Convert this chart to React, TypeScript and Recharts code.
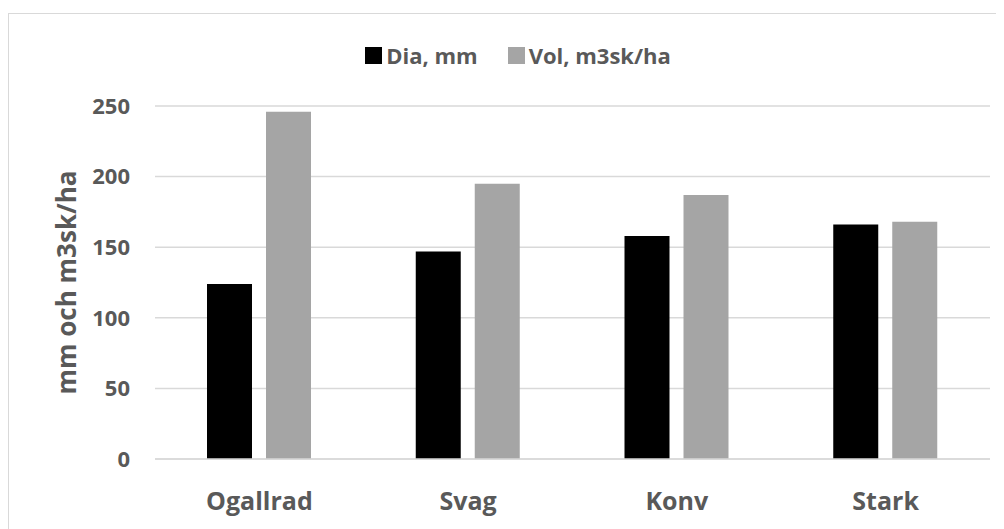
import { Bar, BarChart, CartesianGrid, Legend, XAxis, YAxis } from "recharts";

const categories = ["Ogallrad", "Svag", "Konv", "Stark"];
const diaValues = [124, 147, 158, 166];
const volValues = [246, 195, 187, 168];
const yTicks = [0, 50, 100, 150, 200, 250];

const seriesNames = { dia: "Dia, mm", vol: "Vol, m3sk/ha" };
const colors = { dia: "#000000", vol: "#a5a5a5" };

const data = categories.map((c, i) => ({ name: c, dia: diaValues[i], vol: volValues[i] }));

const FONT = "'Open Sans', sans-serif";
const TEXT = "#595959";

function LegendContent() {
  const items = [
    { key: "dia", label: seriesNames.dia, color: colors.dia },
    { key: "vol", label: seriesNames.vol, color: colors.vol },
  ];
  return (
    <div style={{ display: "flex", justifyContent: "center", alignItems: "center", height: 24 }}>
      {items.map((it, i) => (
        <div key={it.key} style={{ display: "flex", alignItems: "center", marginLeft: i ? 30 : 0 }}>
          <span style={{ width: 17, height: 17, background: it.color, display: "inline-block", marginRight: 4 }} />
          <span style={{ fontFamily: FONT, fontWeight: 700, fontSize: 22, color: TEXT, lineHeight: "24px" }}>
            {it.label}
          </span>
        </div>
      ))}
    </div>
  );
}

export default function App() {
  return (
    <div style={{ paddingTop: 5 }}>
      <div style={{ width: 1000, height: 520, border: "1px solid #d9d9d9", background: "#fff" }}>
        <BarChart
          width={996}
          height={516}
          data={data}
          margin={{ top: 68, right: 15, left: 0, bottom: 0 }}
          barSize={45}
          barGap={14}
        >
          <CartesianGrid stroke="#d9d9d9" strokeWidth={1.5} vertical={false} />
          <XAxis
            dataKey="name"
            height={71}
            axisLine={{ stroke: "#d9d9d9", strokeWidth: 1.5 }}
            tickLine={false}
            tickSize={0}
            tickMargin={33}
            tick={{ fontFamily: FONT, fontWeight: 700, fontSize: 25, fill: TEXT }}
          />
          <YAxis
            width={146}
            domain={[0, 250]}
            ticks={yTicks}
            axisLine={false}
            tickLine={false}
            tickSize={0}
            tickMargin={25}
            tick={{ fontFamily: FONT, fontWeight: 700, fontSize: 22, fill: TEXT }}
            label={{
              value: "mm och m3sk/ha",
              angle: -90,
              position: "center",
              dx: -15,
              style: { fontFamily: FONT, fontWeight: 700, fontSize: 26, fill: TEXT, textAnchor: "middle" },
            }}
          />
          <Legend
            verticalAlign="top"
            content={<LegendContent />}
            wrapperStyle={{ top: 29, left: 22, width: 974 }}
          />
          <Bar dataKey="dia" name={seriesNames.dia} fill={colors.dia} isAnimationActive={false} />
          <Bar dataKey="vol" name={seriesNames.vol} fill={colors.vol} isAnimationActive={false} />
        </BarChart>
      </div>
    </div>
  );
}
